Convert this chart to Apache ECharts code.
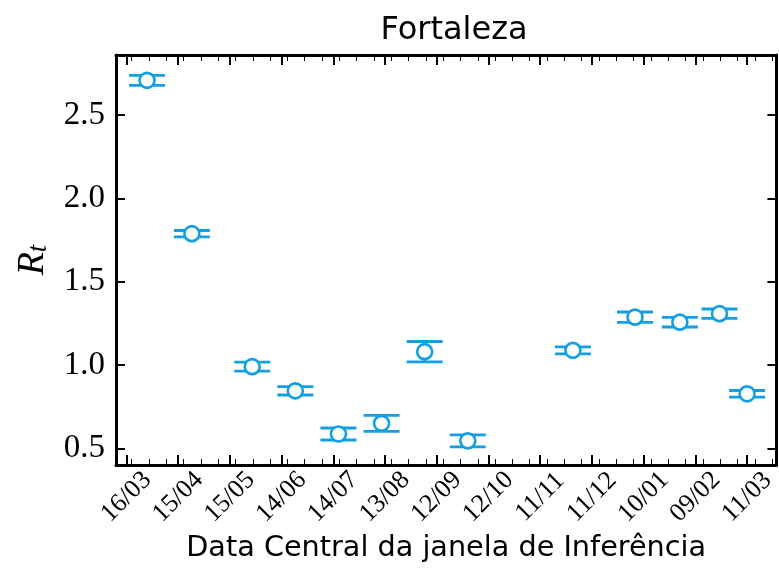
<!DOCTYPE html>
<html>
<head>
<meta charset="utf-8">
<script src="https://cdn.jsdelivr.net/npm/echarts@6/dist/echarts.min.js"></script>
<style>
  html, body { margin: 0; padding: 0; background: #ffffff; }
  #chart { width: 779px; height: 585px; }
</style>
</head>
<body>
<div id="chart"></div>
<script>
// Central day of each inference window, counted from 16/03/2020
const windowDays = [12, 38, 73, 98, 123, 148, 173, 198, 259, 295, 321, 344, 360];
// Rt estimate and its lower / upper bounds
const rtMean  = [2.708, 1.788, 0.990, 0.845, 0.586, 0.650, 1.080, 0.545, 1.088, 1.287, 1.257, 1.308, 0.827];
const rtLower = [2.678, 1.769, 0.963, 0.820, 0.550, 0.602, 1.019, 0.509, 1.067, 1.256, 1.228, 1.280, 0.807];
const rtUpper = [2.738, 1.807, 1.017, 0.870, 0.622, 0.698, 1.141, 0.581, 1.109, 1.318, 1.286, 1.336, 0.847];

// Date ticks every 30 days from 16/03/2020
const tickLabels = ['16/03', '15/04', '15/05', '14/06', '14/07', '13/08', '12/09',
                    '12/10', '11/11', '11/12', '10/01', '09/02', '11/03'];
const tickStep = 30;
const minorStep = 10;
const minorPhase = 3;
const dayMin = -6;
const dayMax = 377;

const yMin = 0.4, yMax = 2.86, ySplits = 5;

const blue = '#129fe4';

// one category per day so ticks can sit on arbitrary days
const days = [];
for (let d = dayMin; d <= dayMax; d++) days.push(d);
const isMajor = (i) => { const d = days[i]; return d >= 0 && d % tickStep === 0 && d / tickStep < tickLabels.length; };
const isMinor = (i) => { const d = days[i]; return ((d - minorPhase) % minorStep + minorStep) % minorStep === 0; };

const errData = windowDays.map((d, i) => [d - dayMin, rtLower[i], rtUpper[i]]);
const ptData = windowDays.map((d, i) => [d - dayMin, rtMean[i]]);

const gridRect = { left: 116, right: -2, top: 55, bottom: 120 };
const serif = 'Liberation Serif';
const sans = 'DejaVu Sans';

function xAxisMajor(pos, gridIndex, withLabels) {
  return {
    type: 'category', gridIndex, position: pos, data: days, boundaryGap: false,
    axisLine: { show: true, onZero: false, lineStyle: { color: '#000', width: 3 } },
    axisTick: { show: true, inside: true, length: 10, interval: (i) => isMajor(i),
                lineStyle: { color: '#000', width: 2 } },
    axisLabel: withLabels ? {
      show: true, interval: (i) => isMajor(i), rotate: 45, margin: 32,
      align: 'center', verticalAlign: 'middle',
      fontFamily: serif, fontSize: 26, color: '#000',
      formatter: (v) => tickLabels[Number(v) / tickStep]
    } : { show: false },
    splitLine: { show: false },
    name: withLabels ? 'Data Central da janela de Inferência' : '',
    nameLocation: 'middle', nameGap: 60,
    nameTextStyle: { fontFamily: sans, fontSize: 28.7, color: '#000' }
  };
}
function xAxisMinor(pos) {
  return {
    type: 'category', gridIndex: 1, position: pos, data: days, boundaryGap: false,
    axisLine: { show: false },
    axisTick: { show: true, inside: true, length: 6, interval: (i) => isMinor(i),
                lineStyle: { color: '#000', width: 1 } },
    axisLabel: { show: false }, splitLine: { show: false }
  };
}
function yAxisBase(pos, gridIndex, withLabels, visible) {
  return {
    type: 'value', gridIndex, position: pos, min: yMin, max: yMax, splitNumber: ySplits,
    axisLine: { show: visible, lineStyle: { color: '#000', width: 3 } },
    axisTick: { show: visible, inside: true, length: 9, lineStyle: { color: '#000', width: 2 } },
    axisLabel: withLabels ? {
      show: true, margin: 11, fontFamily: serif, fontSize: 33, color: '#000',
      showMinLabel: false, showMaxLabel: false,
      formatter: (v) => v.toFixed(1)
    } : { show: false },
    splitLine: { show: false },
    name: withLabels ? '{r|R}{t|t}' : '',
    nameLocation: 'middle', nameRotate: 90, nameGap: 64,
    nameTextStyle: {
      rich: {
        r: { fontFamily: serif, fontStyle: 'italic', fontSize: 38, color: '#000', verticalAlign: 'bottom', lineHeight: 38 },
        t: { fontFamily: serif, fontStyle: 'italic', fontSize: 27, color: '#000', verticalAlign: 'bottom', lineHeight: 18 }
      }
    }
  };
}

const chart = echarts.init(document.getElementById('chart'), null, { renderer: 'canvas' });
chart.setOption({
  animation: false,
  backgroundColor: '#ffffff',
  title: {
    text: 'Fortaleza', left: 449, top: 10, textAlign: 'center',
    textStyle: { fontFamily: sans, fontSize: 32, fontWeight: 'normal', color: '#000' }
  },
  grid: [Object.assign({}, gridRect), Object.assign({}, gridRect)],
  xAxis: [xAxisMajor('bottom', 0, true), xAxisMajor('top', 0, false), xAxisMinor('bottom'), xAxisMinor('top')],
  yAxis: [yAxisBase('left', 0, true, true), yAxisBase('right', 0, false, true), yAxisBase('left', 1, false, false)],
  series: [
    {
      type: 'custom', xAxisIndex: 0, yAxisIndex: 0, data: errData, z: 2,
      encode: { x: 0, y: [1, 2] },
      renderItem: (params, api) => {
        const x = api.value(0);
        const lo = api.coord([x, api.value(1)]);
        const hi = api.coord([x, api.value(2)]);
        const half = 18;
        const style = { stroke: blue, lineWidth: 2.8, fill: null };
        return {
          type: 'group',
          children: [
            { type: 'line', shape: { x1: lo[0], y1: lo[1], x2: hi[0], y2: hi[1] }, style },
            { type: 'line', shape: { x1: lo[0] - half, y1: lo[1], x2: lo[0] + half, y2: lo[1] }, style },
            { type: 'line', shape: { x1: hi[0] - half, y1: hi[1], x2: hi[0] + half, y2: hi[1] }, style }
          ]
        };
      }
    },
    {
      type: 'scatter', xAxisIndex: 0, yAxisIndex: 0, data: ptData, z: 3,
      symbol: 'circle', symbolSize: 15,
      itemStyle: { color: '#ffffff', borderColor: blue, borderWidth: 2.6, opacity: 1 }
    }
  ]
});
</script>
</body>
</html>
